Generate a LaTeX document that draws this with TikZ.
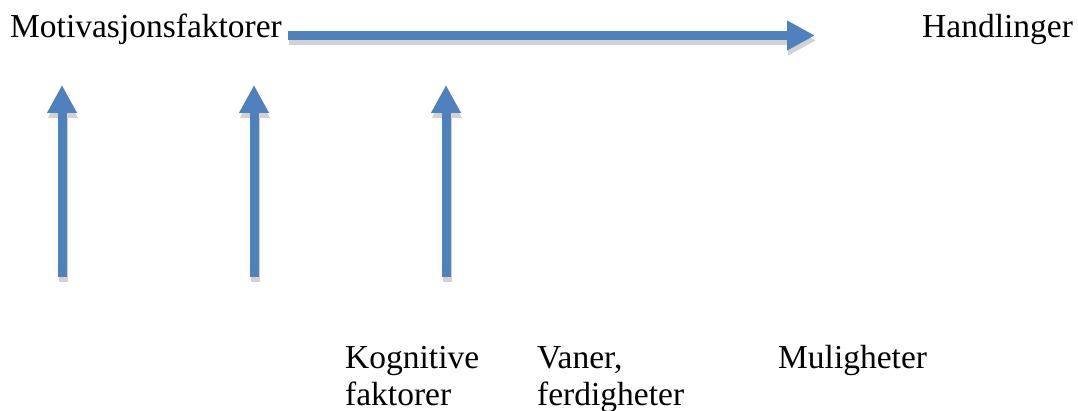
\documentclass[tikz,border=0pt]{standalone}
\usepackage{fontspec}
\setmainfont{Liberation Serif}
\usetikzlibrary{arrows.meta}
\definecolor{arrowblue}{HTML}{4F81BD}
\definecolor{shadowgray}{HTML}{D2D2D2}

\begin{document}
\begin{tikzpicture}[x=1pt,y=-1pt,
    bigarrow/.style={line width=9pt,-{Triangle[length=28pt,width=28pt]}},
    label/.style={anchor=base west,inner sep=0pt,align=left,
      font=\fontsize{33.5}{37}\selectfont}]

      \useasboundingbox (0,0) rectangle (1078,411);

      \begin{scope}[every node/.style={label}]
        \node (motiv) at (10,37.5)  {Motivasjonsfaktorer};
        \node (handl) at (922,37.5) {Handlinger};
        \node (kogn)  at (345,405)  {Kognitive\\faktorer};
        \node (vaner) at (537,405)  {Vaner,\\ferdigheter};
        \node (mulig) at (778,368)  {Muligheter};
      \end{scope}

      \coordinate (start) at (288,35.5);
      \coordinate (tip)   at (815,35.5);
      \coordinate (a1)    at (62,277);
      \coordinate (a1t)   at (62,85);
      \coordinate (a2)    at (254,277);
      \coordinate (a2t)   at (254,85);
      \coordinate (a3)    at (446,277);
      \coordinate (a3t)   at (446,85);

      % shadows
      \begin{scope}[transform canvas={xshift=1pt,yshift=-5pt},shadowgray]
        \draw[bigarrow] (start) -- (tip);
        \draw[bigarrow] (a1) -- (a1t);
        \draw[bigarrow] (a2) -- (a2t);
        \draw[bigarrow] (a3) -- (a3t);
      \end{scope}

      \begin{scope}[arrowblue]
        \draw[bigarrow] (start) -- (tip);
        \draw[bigarrow] (a1) -- (a1t);
        \draw[bigarrow] (a2) -- (a2t);
        \draw[bigarrow] (a3) -- (a3t);
      \end{scope}

    \end{tikzpicture}
\end{document}
